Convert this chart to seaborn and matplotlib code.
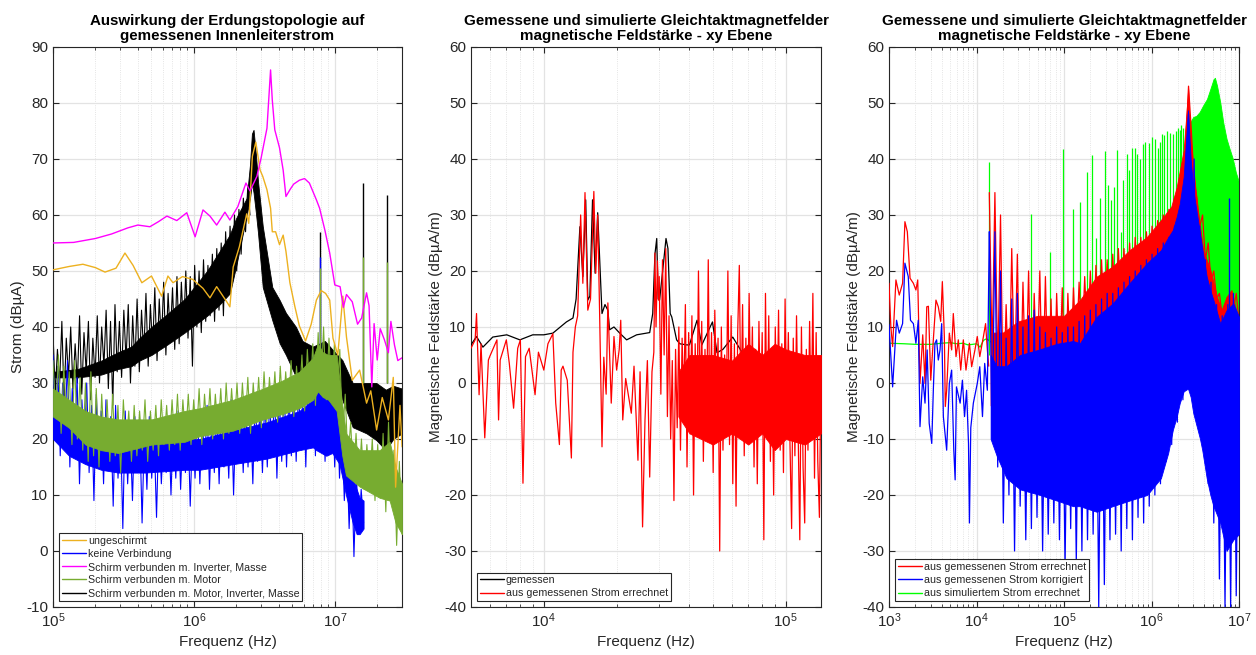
import numpy as np
import matplotlib
matplotlib.use("Agg")
import matplotlib.pyplot as plt
from matplotlib.lines import Line2D
from matplotlib.ticker import LogLocator, NullFormatter, MultipleLocator
import seaborn as sns

# MATLAB-like look
sns.set_theme(style="white")
plt.rcParams["font.family"] = ["Liberation Sans", "DejaVu Sans"]
plt.rcParams["mathtext.fontset"] = "custom"
plt.rcParams["mathtext.rm"] = "Liberation Sans"
plt.rcParams["axes.unicode_minus"] = False

C_ORANGE = "#EDB120"
C_GREEN = "#77AC30"

# ---------------- panel 1: Innenleiterstrom ----------------
mag1_f = [1.0e5, 1.4e5, 2.0e5, 2.6e5, 3.4e5, 4.0e5, 4.87e5, 5.6e5, 6.43e5, 7.56e5, 8.9e5, 1.02e6,
          1.16e6, 1.3e6, 1.45e6, 1.66e6, 1.8e6, 2.05e6, 2.34e6, 2.5e6, 2.8e6, 3.0e6, 3.3e6, 3.5e6,
          3.6e6, 3.75e6, 4.05e6, 4.3e6, 4.5e6, 4.8e6, 5.1e6, 5.6e6, 6.1e6, 6.6e6, 7.4e6, 7.8e6,
          8.5e6, 9.2e6, 1.0e7, 1.09e7, 1.15e7, 1.21e7, 1.33e7, 1.45e7, 1.55e7, 1.68e7, 1.75e7,
          1.83e7, 1.9e7, 2.0e7, 2.1e7, 2.25e7, 2.4e7, 2.5e7, 2.65e7, 2.8e7, 3.0e7]
mag1_y = [55.0, 55.1, 55.8, 56.6, 57.7, 58.2, 57.9, 58.8, 59.8, 59.0, 60.4, 56.1,
          60.9, 59.8, 58.2, 60.5, 59.1, 61.5, 65.7, 64.3, 66.9, 70.2, 75.5, 85.9,
          80.5, 75.2, 72.0, 68.0, 63.3, 64.5, 65.5, 66.2, 66.5, 65.7, 62.7, 61.2,
          57.3, 53.2, 47.5, 47.2, 43.5, 45.8, 44.5, 40.5, 41.6, 46.1, 43.8,
          29.3, 40.6, 34.1, 39.7, 37.7, 35.4, 41.0, 36.8, 34.0, 34.5]

ora1_f = [1.0e5, 1.3e5, 1.63e5, 2.0e5, 2.34e5, 2.8e5, 3.24e5, 3.7e5, 4.27e5, 5.0e5, 5.9e5, 6.54e5,
          7.1e5, 8.3e5, 9.8e5, 1.16e6, 1.3e6, 1.45e6, 1.71e6, 1.8e6, 1.9e6, 2.1e6, 2.37e6, 2.45e6,
          2.6e6, 2.75e6, 2.95e6, 3.08e6, 3.3e6, 3.5e6, 3.6e6, 3.8e6, 4.05e6, 4.3e6, 4.5e6, 4.8e6,
          5.2e6, 5.6e6, 6.2e6, 6.8e6, 7.4e6, 8.0e6, 8.6e6, 9.2e6, 9.7e6, 1.05e7, 1.14e7, 1.21e7,
          1.33e7, 1.5e7, 1.68e7, 1.8e7, 1.98e7, 2.17e7, 2.4e7, 2.6e7, 2.7e7, 2.9e7, 3.0e7]
ora1_y = [50.2, 50.8, 51.2, 50.6, 49.8, 50.5, 53.2, 51.0, 47.9, 49.1, 45.5, 49.1,
          47.9, 49.0, 48.5, 46.9, 45.2, 47.2, 44.5, 43.6, 50.7, 54.3, 60.2, 58.5,
          70.5, 73.0, 68.0, 66.9, 64.5, 61.2, 57.0, 57.0, 54.7, 56.4, 53.5, 47.9,
          43.7, 40.2, 37.5, 40.5, 44.8, 46.5, 46.0, 44.8, 38.0, 35.0, 45.5, 38.2,
          30.5, 32.3, 26.4, 28.6, 21.6, 27.4, 23.4, 31.0, 11.4, 26.0, 18.6]

blk1_f = [1.0e5, 1.5e5, 2.2e5, 2.9e5, 3.6e5, 4.1e5, 5.0e5, 6.6e5, 8.6e5, 1.24e6, 1.52e6, 1.8e6,
          2.0e6, 2.37e6, 2.5e6, 2.58e6, 2.65e6, 2.75e6, 2.85e6, 3.08e6, 3.6e6, 4.06e6, 4.5e6,
          5.3e6, 5.9e6, 7.0e6, 8.5e6, 1.0e7, 1.13e7, 1.34e7, 1.68e7, 1.97e7, 2.3e7, 2.6e7, 3.0e7]
blk1_hi = [32, 32.5, 34, 35.5, 36.5, 38, 40, 42.5, 45, 50, 53.5, 56.5, 59.5, 63, 69, 74.5, 75.2,
           71, 66, 58, 47.1, 44.8, 42.5, 40, 37.5, 36.5, 37.5, 35.5, 34.1, 30, 30, 30, 28.8,
           29.5, 29]
blk1_lo = [31, 31, 31.5, 32.5, 33, 34, 35, 37, 39, 42, 44, 46, 51, 60, 63, 65.7, 64, 60.5,
           56.8, 47.1, 41.2, 37.1, 35, 31.1, 30.5, 29.5, 30, 30, 27, 22.1, 21, 19.8, 18, 20, 21]
blk1_zz_span = (1.0e5, 2.5e6)
blk1_zz = [39, 28, 36, 30, 41, 27, 38, 31, 40, 29,
           37, 30, 42, 28, 39, 32, 41, 27, 38, 31,
           42, 30, 40, 33, 43, 29, 41, 26, 44, 32,
           41, 31, 43, 34, 44, 30, 42, 33, 45, 32,
           43, 35, 46, 33, 44, 36, 47, 34, 45, 37,
           48, 35, 46, 38, 47, 36, 49, 37, 48, 39,
           50, 38, 49, 33, 51, 40, 50, 39, 52, 41,
           51, 42, 53, 41, 54, 43, 55, 42, 57, 46,
           58, 48, 60, 50, 61, 53, 63, 57, 65, 60]

blu1_f = [1.0e5, 1.3e5, 1.7e5, 2.2e5, 2.9e5, 4.5e5, 8.6e5, 1.1e6, 1.9e6, 3.3e6, 5.6e6, 7.0e6,
          7.4e6, 8.7e6, 9.6e6, 1.08e7, 1.2e7, 1.34e7, 1.43e7, 1.5e7, 1.6e7]
blu1_hi = [25, 23, 21, 20, 19.5, 19, 20, 20, 21.5, 23, 25, 27, 28.5, 28, 27.5, 25, 18, 13, 11, 9.5, 9]
blu1_lo = [20, 17, 15.5, 14.5, 14, 14, 14.5, 14.5, 15.5, 16.5, 18, 18.5, 18, 17, 17.5, 15.5, 10, 5, 3, 3, 4]
blu1_zz_span = (1.0e5, 1.6e7)
blu1_zz = [35, 20, 33, 17, 30, 22, 34, 15, 29, 19,
           31, 12, 27, 18, 30, 14, 26, 9, 28, 16,
           25, 12, 27, 15, 24, 8, 26, 13, 23, 4,
           25, 12, 22, 9, 24, 14, 23, 5, 22, 11,
           24, 13, 21, 6, 23, 12, 22, 14, 24, 10,
           23, 13, 25, 11, 22, 14, 24, 8, 23, 13,
           25, 12, 24, 15, 26, 11, 24, 14, 25, 12,
           26, 15, 24, 13, 27, 10, 25, 16, 26, 14,
           27, 15, 25, 12, 28, 16, 26, 14, 28, 15,
           27, 17, 29, 13, 28, 16, 30, 15, 28, 17,
           30, 16, 29, 18, 32, 15, 31, 19, 35, 17,
           33, 18, 31, 16, 30, 19, 29, 15, 28, 13,
           22, 9, 18, 4, 16, -1, 14, 3, 11, 5]

grn1_f = [1.0e5, 1.3e5, 1.7e5, 2.2e5, 2.9e5, 5.0e5, 8.6e5, 1.1e6, 1.9e6, 3.1e6, 4.3e6, 5.6e6,
          7.0e6, 7.6e6, 8.2e6, 9.0e6, 1.03e7, 1.13e7, 1.2e7, 1.5e7, 2.08e7, 2.45e7, 2.7e7, 3.0e7]
grn1_hi = [29, 27, 25, 24, 23.5, 23.5, 25, 25.5, 27, 29, 30.5, 32, 34.5, 37, 35.5, 35,
           35, 26, 21, 18, 18, 19.5, 15, 12]
grn1_lo = [24, 22, 19, 18, 17.5, 19, 19.5, 20.5, 21.5, 23.5, 24.5, 25.5, 27, 28.5, 27.5, 27,
           25, 17, 13.5, 11.5, 9.5, 9, 5, 3]
grn1_zz_span = (1.0e5, 3.0e7)
grn1_zz = [34, 24, 35, 21, 33, 23, 32, 19, 34, 20,
           31, 18, 30, 16, 32, 17, 29, 15, 28, 18,
           27, 16, 28, 17, 26, 14, 27, 18, 25, 16,
           26, 17, 25, 18, 27, 16, 25, 18, 26, 17,
           27, 19, 26, 18, 27, 19, 28, 18, 27, 20,
           28, 19, 27, 20, 29, 19, 28, 21, 29, 20,
           28, 21, 29, 20, 30, 21, 29, 22, 30, 21,
           30, 22, 31, 21, 30, 23, 31, 22, 32, 23,
           31, 24, 32, 23, 33, 24, 32, 25, 34, 24,
           33, 26, 35, 25, 36, 27, 37, 26, 39, 28,
           40, 27, 38, 28, 37, 26, 36, 20, 28, 16,
           23, 13, 21, 12, 20, 11, 19, 12, 20, 9,
           19, 10, 21, 7, 23, 9, 18, 1, 16, 3]

spk1_f = [7.8e6, 1.58e7, 2.35e7]
spk1_black = [57.0, 65.7, 63.6]
spk1_blue = [52.5, 30.0, 30.0]
spk1_green = [50.5, 52.5, 51.6]
spk1_base = 30.0

legend1 = ["ungeschirmt", "keine Verbindung", "Schirm verbunden m. Inverter, Masse",
           "Schirm verbunden m. Motor", "Schirm verbunden m. Motor, Inverter, Masse"]

# ---------------- panel 2: Feldstärke bis 140 kHz ----------------
blk2_f = [5.0e3, 5.27e3, 5.6e3, 6.15e3, 7.03e3, 7.96e3, 9.0e3, 1.0e4, 1.09e4, 1.17e4, 1.24e4,
          1.32e4, 1.36e4, 1.41e4, 1.45e4, 1.49e4, 1.52e4, 1.55e4, 1.59e4, 1.63e4, 1.67e4, 1.71e4,
          1.74e4, 1.79e4, 1.84e4, 1.87e4, 1.95e4, 2.06e4, 2.2e4, 2.42e4, 2.74e4, 2.82e4, 2.88e4,
          2.93e4, 2.97e4, 3.01e4, 3.1e4, 3.2e4, 3.26e4, 3.33e4, 3.38e4, 3.54e4, 3.65e4, 3.9e4,
          4.0e4, 4.3e4, 4.5e4, 4.98e4, 5.2e4, 5.5e4, 6.04e4, 6.9e4, 7.8e4, 9.2e4, 1.1e5, 1.4e5]
blk2_y = [6.8, 8.3, 6.4, 8.2, 8.6, 7.7, 8.6, 8.6, 8.9, 10.0, 10.9,
          11.6, 15.0, 27.9, 19.0, 32.7, 14.8, 15.5, 32.7, 19.6, 30.4, 20.0,
          12.4, 14.0, 13.0, 9.5, 10.0, 8.9, 7.7, 8.6, 9.0, 12.4, 23.0,
          25.8, 15.0, 14.8, 20.0, 25.8, 24.0, 12.4, 11.8, 7.7, 7.0, 6.8,
          6.8, 11.2, 6.8, 10.9, 5.4, 6.0, 8.2, 4.1, 3.6, 2.3, 2.0, 1.5]

red2_f = [5.0e3, 5.2e3, 5.27e3, 5.4e3, 5.5e3, 5.7e3, 5.9e3, 6.0e3, 6.4e3, 6.5e3, 6.6e3, 7.0e3,
          7.2e3, 7.5e3, 7.8e3, 8.0e3, 8.2e3, 8.4e3, 8.7e3, 9.2e3, 9.5e3, 1.0e4, 1.04e4, 1.09e4,
          1.12e4, 1.16e4, 1.18e4, 1.2e4, 1.25e4, 1.3e4, 1.32e4, 1.35e4, 1.38e4, 1.42e4, 1.45e4,
          1.48e4, 1.52e4, 1.56e4, 1.61e4, 1.64e4, 1.67e4, 1.7e4, 1.74e4, 1.77e4, 1.81e4, 1.84e4,
          1.9e4, 1.95e4, 2.0e4, 2.05e4, 2.08e4, 2.12e4, 2.18e4, 2.3e4, 2.36e4, 2.45e4, 2.5e4,
          2.56e4, 2.62e4, 2.68e4, 2.74e4, 2.8e4, 2.85e4, 2.88e4, 2.91e4, 2.95e4, 2.98e4]
red2_y = [6.2, 7.7, 12.4, -2.1, 7.0, -9.8, 4.1, 4.9, 7.7, -6.6, 4.1, 7.7,
          3.5, -4.5, 6.2, 7.7, -17.9, 4.7, 6.2, -2.1, 5.5, 2.3, 7.0, 8.8,
          -3.6, -11.0, 2.3, 3.0, 0.5, -13.4, 5.5, 10.0, 12.0, 30.0, 17.8,
          34.0, 13.0, 15.0, 34.2, 19.6, 30.0, 13.0, -11.4, 4.6, -2.0, 14.3,
          -3.6, 8.3, 2.3, 6.0, 11.2, -6.6, 0.8, -5.4, 3.0, -13.8, 2.0,
          -25.7, -6.6, 4.0, -16.8, 2.0, 5.5, 23.2, 10.0, 21.8, 14.8]
red2_band_f = [3.6e4, 4.0e4, 5.0e4, 6.0e4, 7.0e4, 8.0e4, 9.0e4, 1.0e5, 1.2e5, 1.4e5]
red2_band_hi = [2, 5, 5, 4, 7, 5, 7, 6, 5, 5]
red2_band_lo = [-6, -9, -11, -9, -11, -9, -12, -10, -11, -9]
red2_zz_span = (3.0e4, 1.4e5)
red2_zz = [19, -2, 22, 5, 24, -6, 12, -10, 4, -21,
           6, -8, 10, -12, 8, -4, 14, -15, 9, -6,
           12, -20, 7, -9, 20, -5, 11, -14, 6, -8,
           22, -10, 9, -16, 13, -3, 8, -30, 10, -12,
           5, -7, 20, -11, 12, -18, 7, -22, 9, 21,
           -6, 14, -13, 8, -9, 16, -4, 10, -15, 6,
           -18, 11, -7, 9, -28, 16, -10, 12, -14, 5,
           -20, 10, -8, 13, -12, 7, -16, 15, -6, 9,
           -11, -26, 8, -13, 12, -9, -28, 10, -15, -25,
           6, -12, 11, -8, 16, -17, 9, -14, -24, 4]

legend2 = ["gemessen", "aus gemessenen Strom errechnet"]

# ---------------- panel 3: Feldstärke bis 10 MHz ----------------
grn3_f = [1.0e3, 1.5e3, 2.0e3, 3.0e3, 4.0e3, 5.0e3, 6.0e3, 7.0e3, 8.0e3, 9.0e3, 1.0e4, 1.1e4,
          1.2e4, 1.3e4, 1.5e4]
grn3_y = [7.1, 7.0, 6.9, 6.9, 7.1, 7.2, 7.0, 7.1, 6.8, 6.9, 7.0, 6.4, 7.6, 7.9, 7.2]
grn3_spk_f = [1.40e4, 4.2e4, 7.0e4, 9.8e4, 1.25e5, 1.52e5, 1.82e5, 2.11e5, 2.35e5, 2.6e5,
              2.94e5, 3.21e5, 3.4e5, 3.73e5, 4.0e5, 4.5e5, 4.76e5, 5.2e5, 5.6e5, 6.04e5,
              6.5e5, 6.9e5, 7.4e5, 7.93e5, 8.5e5, 9.3e5, 1.0e6, 1.1e6, 1.18e6, 1.25e6,
              1.33e6, 1.4e6, 1.5e6, 1.63e6, 1.77e6, 1.92e6, 2.0e6, 2.1e6, 2.2e6, 2.31e6, 2.5e6]
grn3_spk_top = [39.4, 30.1, 23.4, 41.8, 31.0, 32.4, 37.6, 40.7, 25.8, 33.0,
                41.4, 35.4, 32.7, 35.0, 41.6, 27.0, 36.2, 40.8, 38.0, 42.0,
                42.0, 40.8, 40.0, 42.6, 43.0, 42.8, 44.0, 43.5, 42.0, 43.0,
                44.5, 44.2, 45.0, 44.7, 44.5, 45.0, 45.5, 45.2, 46.0, 45.5, 46.0]
grn3_spk_base = 5.0
grn3_band_f = [2.7e6, 3.0e6, 3.25e6, 3.55e6, 3.9e6, 4.3e6, 4.7e6, 5.1e6, 5.3e6, 5.6e6, 6.1e6,
               6.6e6, 7.2e6, 7.8e6, 8.5e6, 9.2e6, 1.0e7]
grn3_band_hi = [46.3, 47.5, 47.7, 48.4, 49.6, 50.7, 52.5, 54.2, 54.5, 53.1, 50.1,
                46.5, 43.6, 41.8, 40.0, 37.6, 35.8]
grn3_band_floor = 10.0

red3_f = [1.0e3, 1.05e3, 1.10e3, 1.2e3, 1.31e3, 1.43e3, 1.52e3, 1.62e3, 1.74e3, 1.9e3, 2.03e3,
          2.13e3, 2.26e3, 2.43e3, 2.58e3, 2.7e3, 2.82e3, 3.0e3, 3.21e3, 3.44e3, 3.66e3, 3.9e3,
          4.07e3, 4.29e3, 4.4e3, 4.56e3, 4.89e3, 5.2e3, 5.43e3, 5.83e3, 6.2e3, 6.6e3, 7.07e3,
          7.58e3, 8.3e3, 8.8e3, 9.6e3, 1.02e4, 1.09e4, 1.2e4, 1.27e4, 1.33e4, 1.38e4]
red3_y = [17.8, 10.0, 6.5, 18.4, 15.7, 17.8, 28.8, 27.0, 18.7, 17.8, 16.6,
          18.4, -0.1, 8.6, -0.1, 13.6, 13.7, 0.5, 7.7, 14.8, 13.6, 11.0,
          18.1, 8.3, -4.2, -1.3, 8.9, 5.9, 12.4, 4.7, 7.7, 2.3, 7.7,
          2.3, 7.1, 2.9, 5.9, 8.3, 4.7, 8.3, 10.6, 5.9, 3.0]
red3_band_f = [1.45e4, 2.0e4, 3.0e4, 5.0e4, 1.0e5, 1.52e5, 2.36e5, 3.6e5, 5.6e5, 8.9e5, 1.28e6,
               1.68e6, 1.94e6, 2.33e6, 2.5e6, 2.62e6, 2.75e6, 3.0e6, 3.3e6, 3.9e6, 4.7e6, 5.6e6,
               6.3e6, 7.2e6, 8.2e6, 1.0e7]
red3_band_hi = [9, 9, 11, 12, 12, 14.8, 19.0, 20.8, 23.7, 26.1, 29.1, 31.5, 35.0, 41.6, 48.0,
                52.5, 45.0, 38.6, 32.1, 23.7, 20.2, 15.4, 13.0, 15.4, 16.6, 10.6]
red3_band_lo = [-4, -5, -6, -6, -5, 0, 4, 6, 8, 10, 12, 14, 16, 20, 24, 26, 24, 18, 14, 8,
                4, 2, 2, 2, 3, 2]
dense3_zz_span = (1.4e4, 1.0e7)
red3_zz = [34, 5, 34, 2, 30, -5, 14, -3, 24, 0, 23, -6, 18, -2, 20, -7, 16, 0, 20, -4,
           19, -3, 15, -6, 16, 0, 17, -4, 16, 2, 17, 5, 18, 6, 19, 7, 20, 8, 21, 9,
           22, 10, 22, 11, 23, 12, 24, 13, 24, 14, 25, 15, 26, 16, 26, 17, 27, 18, 28, 20,
           29, 21, 30, 22, 31, 24, 33, 27, 36, 30, 42, 53, 45, 36, 33, 28, 30, 22, 25, 18,
           20, 15, 16, 12, 14, 12, 15, 13, 16, 11]

blu3_f = [1.0e3, 1.1e3, 1.22e3, 1.31e3, 1.43e3, 1.52e3, 1.66e3, 1.76e3, 1.9e3, 2.03e3, 2.16e3,
          2.26e3, 2.43e3, 2.58e3, 2.73e3, 2.88e3, 3.08e3, 3.21e3, 3.35e3, 3.5e3, 3.66e3, 3.83e3,
          4.0e3, 4.18e3, 4.56e3, 4.89e3, 5.2e3, 5.5e3, 5.7e3, 5.9e3, 6.5e3, 6.9e3, 7.3e3, 7.7e3,
          8.1e3, 8.3e3, 8.6e3, 9.2e3, 1.02e4, 1.09e4, 1.17e4, 1.24e4, 1.33e4, 1.4e4]
blu3_y = [10.4, -0.7, 11.2, 8.9, 10.6, 21.4, 19.0, 11.2, 10.6, 7.1, 11.2,
          -7.8, 1.1, -3.6, 5.9, -7.2, -10.8, -1.3, 7.1, 7.7, 4.1, 5.9,
          10.6, -6.0, -12.0, -0.1, 2.3, -12.0, -17.3, -0.7, -3.6, 0.5, -6.0, -1.3,
          -10.8, -25.0, -8.0, -3.6, -0.1, 2.9, -6.0, 3.5, -1.3, 27.0]
blu3_band_f = [1.45e4, 1.7e4, 2.2e4, 3.15e4, 5.3e4, 8.3e4, 1.27e5, 1.52e5, 2.36e5, 3.6e5, 5.6e5,
               8.9e5, 1.28e6, 1.55e6, 1.75e6, 1.94e6, 2.1e6, 2.33e6, 2.61e6, 2.8e6, 3.0e6, 3.58e6,
               3.8e6, 4.27e6, 4.7e6, 5.1e6, 6.1e6, 7.2e6, 8.6e6, 1.0e7]
blu3_band_hi = [5, 3, 3, 5, 6, 7, 7.5, 7.1, 11.8, 14.2, 17.8, 21.4, 23.7, 26, 27.3, 29.7, 32,
                36.8, 48.7, 40, 34.5, 26.7, 24, 19, 16.5, 14.8, 10.6, 13.0, 14.2, 11.8]
blu3_band_lo = [-10, -13, -17, -19, -20, -21, -22, -22, -23, -22, -21, -20, -17, -12.5, -8.4,
                -6, -3.6, -1.5, -1.0, -2.5, -5.4, -10, -12, -17, -20, -22, -25, -30, -28, -27]
blu3_zz = [27, -10, 27, -15, 20, -25, 8, -20, 15, -30, 16, -22, 10, -28, 12, -26, 13, -24, 10, -30,
           9, -27, 8, -25, 10, -28, 9, -33, 10, -26, 10, -32, 11, -30, 12, -28, 13, -27, 14, -40,
           15, -36, 16, -28, 16, -27, 17, -30, 18, -26, 19, -28, 20, -24, 21, -25, 22, -22, 23, -20,
           24, -18, 25, -14, 26, -11, 28, -7, 31, -3, 37, 48, -1, 40, -6, 28, -10, 22, -18, 18,
           -25, 14, -35, 12, -40, 14, -40, 16, -38, 11]
blu3_spk_f = [7.7e6]
blu3_spk_top = [33.0]
blu3_spk_base = 10.0

legend3 = ["aus gemessenen Strom errechnet", "aus gemessenen Strom korrigiert",
           "aus simuliertem Strom errechnet"]


def trace(ax, f, y, color, z, lw=0.8):
    sns.lineplot(x=np.asarray(f, float), y=np.asarray(y, float), ax=ax, color=color, lw=lw,
                 estimator=None, sort=False, legend=False, zorder=z)


def zigzag(ax, span, vals, color, z, lw=0.7):
    f = np.geomspace(span[0], span[1], len(vals))
    trace(ax, f, vals, color, z, lw)


def band(ax, f, lo, hi, color, z):
    ax.fill_between(f, lo, hi, color=color, lw=0.6, zorder=z)


def style_axes(ax, xlim, ylim, ylabel, title):
    ax.set_xscale("log")
    ax.set_xlim(*xlim)
    ax.set_ylim(*ylim)
    ax.yaxis.set_major_locator(MultipleLocator(10))
    ax.xaxis.set_major_locator(LogLocator(base=10, numticks=20))
    ax.xaxis.set_minor_locator(LogLocator(base=10, subs=np.arange(2, 10), numticks=100))
    ax.xaxis.set_minor_formatter(NullFormatter())
    ax.grid(True, which="major", color="#e3e3e3", lw=0.9)
    ax.grid(True, which="minor", axis="x", color="#dcdcdc", lw=0.6, ls=":")
    ax.set_axisbelow(True)
    ax.tick_params(which="both", direction="in", top=True, right=True, bottom=True, left=True,
                   colors="#262626", labelsize=11)
    ax.tick_params(which="major", length=4.5, width=0.8)
    ax.tick_params(which="minor", length=2.5, width=0.6)
    for s in ax.spines.values():
        s.set_color("#262626")
        s.set_linewidth(0.8)
    ax.set_xlabel("Frequenz (Hz)", fontsize=11, color="#262626", labelpad=3)
    ax.set_ylabel(ylabel, fontsize=11, color="#262626", labelpad=1)
    ax.set_title(title, fontsize=10.9, fontweight="bold", color="black", pad=5, linespacing=1.12)


def add_legend(ax, colors, labels):
    handles = [Line2D([], [], color=c, lw=1.0) for c in colors]
    leg = ax.legend(handles, labels, loc="lower left", fontsize=7.7, frameon=True, fancybox=False,
                    edgecolor="#262626", framealpha=1, borderpad=0.25, labelspacing=0.3,
                    handlelength=2.3, handletextpad=0.15, borderaxespad=0.55)
    leg.get_frame().set_linewidth(0.8)
    leg.set_zorder(20)
    for t in leg.get_texts():
        t.set_color("#262626")


fig = plt.figure(figsize=(12.56, 6.55), dpi=100)
ax1 = fig.add_axes([0.0422, 0.0733, 0.2779, 0.855])
ax2 = fig.add_axes([0.3750, 0.0733, 0.2787, 0.855])
ax3 = fig.add_axes([0.7078, 0.0733, 0.2787, 0.855])
for ax in (ax1, ax2, ax3):
    ax.set_xscale("log")

# panel 1
band(ax1, blk1_f, blk1_lo, blk1_hi, "black", 2)
zigzag(ax1, blk1_zz_span, blk1_zz, "black", 2, lw=0.8)
ax1.vlines(spk1_f, spk1_base, spk1_black, color="black", lw=1.0, zorder=2)
band(ax1, blu1_f, blu1_lo, blu1_hi, "blue", 3)
zigzag(ax1, blu1_zz_span, blu1_zz, "blue", 3, lw=0.8)
ax1.vlines(spk1_f, spk1_base, spk1_blue, color="blue", lw=1.0, zorder=3)
band(ax1, grn1_f, grn1_lo, grn1_hi, C_GREEN, 4)
zigzag(ax1, grn1_zz_span, grn1_zz, C_GREEN, 4, lw=0.8)
ax1.vlines(spk1_f, spk1_base, spk1_green, color=C_GREEN, lw=1.0, zorder=4)
trace(ax1, ora1_f, ora1_y, C_ORANGE, 5, lw=1.0)
trace(ax1, mag1_f, mag1_y, "#FF00FF", 6, lw=1.0)
style_axes(ax1, (1e5, 3e7), (-10, 90), "Strom (dBµA)",
           "Auswirkung der Erdungstopologie auf\ngemessenen Innenleiterstrom")
add_legend(ax1, [C_ORANGE, "blue", "#FF00FF", C_GREEN, "black"], legend1)

# panel 2
trace(ax2, blk2_f, blk2_y, "black", 3, lw=0.9)
trace(ax2, red2_f, red2_y, "red", 4, lw=0.9)
band(ax2, red2_band_f, red2_band_lo, red2_band_hi, "red", 4)
zigzag(ax2, red2_zz_span, red2_zz, "red", 4, lw=0.9)
style_axes(ax2, (5e3, 1.4e5), (-40, 60), "Magnetische Feldstärke (dBµA/m)",
           "Gemessene und simulierte Gleichtaktmagnetfelder\nmagnetische Feldstärke - xy Ebene")
add_legend(ax2, ["black", "red"], legend2)

# panel 3
trace(ax3, grn3_f, grn3_y, "#00FF00", 2, lw=0.9)
ax3.vlines(grn3_spk_f, grn3_spk_base, grn3_spk_top, color="#00FF00", lw=0.9, zorder=2)
band(ax3, grn3_band_f, grn3_band_floor, grn3_band_hi, "#00FF00", 2)
trace(ax3, red3_f, red3_y, "red", 3, lw=0.9)
band(ax3, red3_band_f, red3_band_lo, red3_band_hi, "red", 3)
zigzag(ax3, dense3_zz_span, red3_zz, "red", 3, lw=0.9)
trace(ax3, blu3_f, blu3_y, "blue", 4, lw=0.9)
band(ax3, blu3_band_f, blu3_band_lo, blu3_band_hi, "blue", 4)
zigzag(ax3, dense3_zz_span, blu3_zz, "blue", 4, lw=0.9)
ax3.vlines(blu3_spk_f, blu3_spk_base, blu3_spk_top, color="blue", lw=1.0, zorder=4)
style_axes(ax3, (1e3, 1e7), (-40, 60), "Magnetische Feldstärke (dBµA/m)",
           "Gemessene und simulierte Gleichtaktmagnetfelder\nmagnetische Feldstärke - xy Ebene")
add_legend(ax3, ["red", "blue", "#00FF00"], legend3)

fig.savefig("out.png", dpi=100)
